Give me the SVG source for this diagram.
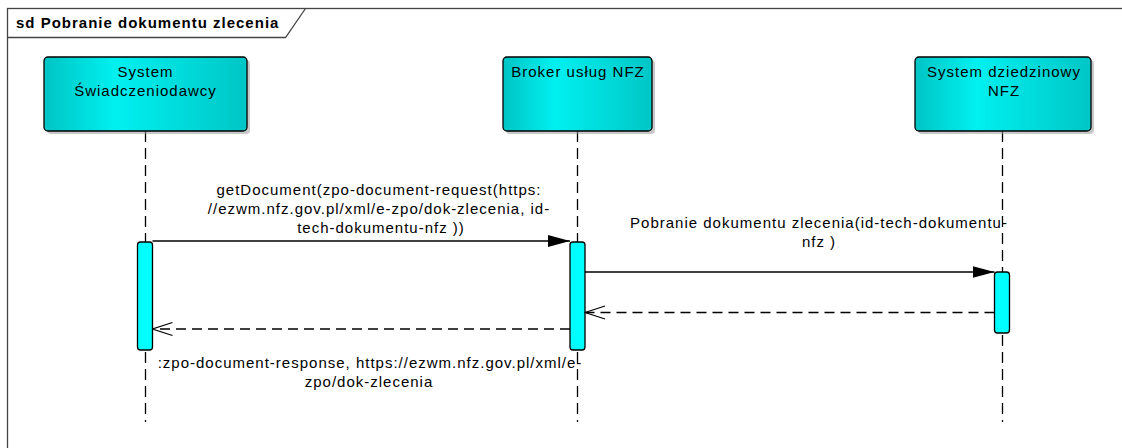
<svg xmlns="http://www.w3.org/2000/svg" width="1122" height="448" viewBox="0 0 1122 448">
<style>
text{font-family:"Liberation Sans",Arial,sans-serif;font-size:15px;letter-spacing:1px;fill:#000}
.t{font-weight:bold}
.c{text-anchor:middle}
.frame{fill:#fff;stroke:#444;stroke-width:1.3}
.box{fill:url(#g);stroke:#000;stroke-width:1.3}
.shadow{fill:#9a9a9a;opacity:0.55}
.life{stroke:#000;stroke-width:1.3;stroke-dasharray:11 6;fill:none}
.act{fill:#00FFFF;stroke:#000;stroke-width:1.3}
.msg{stroke:#000;stroke-width:1.3;fill:none}
.ret{stroke:#000;stroke-width:1.3;fill:none;stroke-dasharray:10 6}
</style>
<defs>
<linearGradient id="g" x1="0" y1="0" x2="1" y2="0">
<stop offset="0" stop-color="#00C4C4"/>
<stop offset="0.35" stop-color="#00F0F0"/>
<stop offset="1" stop-color="#00C6C6"/>
</linearGradient>
<marker id="fill" markerWidth="22" markerHeight="14" refX="22" refY="7" orient="auto" markerUnits="userSpaceOnUse">
<path d="M0,1 L22,7 L0,13 Z" fill="#000"/>
</marker>
<marker id="open" markerWidth="22" markerHeight="16" refX="21" refY="8" orient="auto" markerUnits="userSpaceOnUse">
<path d="M1,1.5 L21,8 L1,14.5" fill="none" stroke="#000" stroke-width="1.3"/>
</marker>
</defs>
<rect width="1122" height="448" fill="#fff"/>
<g id="frame">
<rect class="frame" x="7.5" y="8.5" width="1125" height="450"/>
<path d="M7.5,37.5 L285.5,37.5 L305.5,8.5" fill="none" stroke="#444" stroke-width="1.3"/>
<text class="t" x="16" y="28">sd Pobranie dokumentu zlecenia</text>
</g>
<g id="lifelines">
<line class="life" x1="145.5" y1="131" x2="145.5" y2="422"/>
<line class="life" x1="577.5" y1="131" x2="577.5" y2="422"/>
<line class="life" x1="1002.5" y1="131" x2="1002.5" y2="422"/>
</g>
<g id="node-swiadczeniodawca">
<rect class="shadow" x="47" y="60" width="203" height="74" rx="4"/>
<rect class="box" x="44" y="57" width="203" height="74" rx="4"/>
<text class="c" x="145.5" y="77">System</text>
<text class="c" x="145.5" y="96">Świadczeniodawcy</text>
</g>
<g id="node-broker">
<rect class="shadow" x="506" y="60" width="149" height="74" rx="4"/>
<rect class="box" x="503" y="57" width="149" height="74" rx="4"/>
<text class="c" x="578" y="77">Broker usług NFZ</text>
</g>
<g id="node-dziedzinowy">
<rect class="shadow" x="918" y="60" width="176" height="74" rx="4"/>
<rect class="box" x="915" y="57" width="176" height="74" rx="4"/>
<text class="c" x="1004" y="77">System dziedzinowy</text>
<text class="c" x="1004" y="96">NFZ</text>
</g>
<g id="activations">
<rect class="act" x="137.5" y="242" width="15" height="108" rx="3"/>
<rect class="act" x="570" y="242" width="15" height="108" rx="3"/>
<rect class="act" x="994.5" y="272" width="15" height="61" rx="3"/>
</g>
<g id="connectors">
<line class="msg" x1="152.5" y1="241" x2="570" y2="241" marker-end="url(#fill)"/>
<line class="msg" x1="585" y1="272" x2="994.5" y2="272" marker-end="url(#fill)"/>
<line class="ret" x1="994.5" y1="312.5" x2="585" y2="312.5" marker-end="url(#open)"/>
<line class="ret" x1="570" y1="329" x2="152.5" y2="329" marker-end="url(#open)"/>
</g>
<g id="labels">
<text class="c" x="379" y="195">getDocument(zpo-document-request(https:</text>
<text class="c" x="379" y="214">//ezwm.nfz.gov.pl/xml/e-zpo/dok-zlecenia, id-</text>
<text class="c" x="381" y="233">tech-dokumentu-nfz ))</text>
<text class="c" x="819" y="228">Pobranie dokumentu zlecenia(id-tech-dokumentu-</text>
<text class="c" x="819" y="247">nfz )</text>
<text class="c" x="370" y="368">:zpo-document-response, https://ezwm.nfz.gov.pl/xml/e-</text>
<text class="c" x="369" y="387">zpo/dok-zlecenia</text>
</g>
</svg>
